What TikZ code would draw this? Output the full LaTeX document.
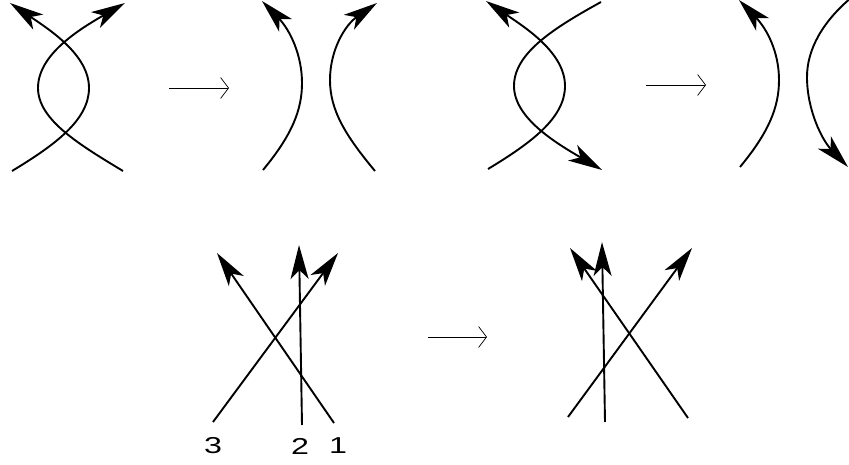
\documentclass[tikz,border=0pt]{standalone}
\usepackage{fontspec}
\setmainfont{Liberation Sans}
\newfontfamily\labfont[FakeStretch=1.4]{Liberation Sans}
\usetikzlibrary{arrows.meta}

\begin{document}
\begin{tikzpicture}[x=1pt, y=-1pt, line width=1.9pt,
    arr/.style={-{Stealth[length=34pt, width=18pt, inset=9pt]}},
    move/.style={line width=0.7pt, -{Straight Barb[length=8pt, width=21pt]}},
    lab/.style={font=\labfont\fontsize{23}{28}\selectfont, inner sep=0pt}]
    \useasboundingbox (0,0) rectangle (849,465);

    % top row, first pair
    \coordinate (a1) at (12,171);
    \coordinate (a2) at (10,3);
    \coordinate (b1) at (123,171);
    \coordinate (b2) at (125,3);
    \draw[arr] (a1) .. controls (55,145) and (89,120) .. (89,88) .. controls (89,55) and (50,30) .. (a2);
    \draw[arr] (b1) .. controls (80,145) and (38,120) .. (38,88) .. controls (38,55) and (78,30) .. (b2);

    \coordinate (m1) at (169,88);
    \coordinate (m2) at (229,88);
    \draw[move] (m1) -- (m2);

    \coordinate (c1) at (263,170);
    \coordinate (c2) at (262,1);
    \coordinate (d1) at (375,171);
    \coordinate (d2) at (377,3);
    \draw[arr] (c1) .. controls (292,135) and (302,110) .. (302,83) .. controls (302,55) and (290,30) .. (c2);
    \draw[arr] (d1) .. controls (345,135) and (330,110) .. (330,80) .. controls (330,50) and (345,25) .. (d2);

    % top row, second pair
    \coordinate (p1) at (488,169);
    \coordinate (p2) at (486,1);
    \coordinate (q1) at (601,2);
    \coordinate (q2) at (602,170);
    \draw[arr] (p1) .. controls (531,143) and (565,118) .. (565,86) .. controls (565,53) and (526,28) .. (p2);
    \draw[arr] (q1) .. controls (554,28) and (514,53) .. (514,86) .. controls (514,118) and (556,143) .. (q2);

    \coordinate (m3) at (646,85);
    \coordinate (m4) at (706,85);
    \draw[move] (m3) -- (m4);

    \coordinate (r1) at (740,167);
    \coordinate (r2) at (739,0);
    \coordinate (s1) at (852,-3);
    \coordinate (s2) at (848,167);
    \draw[arr] (r1) .. controls (769,132) and (779,107) .. (779,80) .. controls (779,52) and (767,29) .. (r2);
    \draw[arr] (s1) .. controls (822,22) and (807,50) .. (807,77) .. controls (807,110) and (822,140) .. (s2);

    % bottom row
    \coordinate (e1) at (213,422);
    \coordinate (e2) at (338,253);
    \coordinate (f1) at (302,425);
    \coordinate (f2) at (299,245);
    \coordinate (g1) at (334,423);
    \coordinate (g2) at (217,253);
    \draw[arr] (e1) -- (e2);
    \draw[arr] (f1) -- (f2);
    \draw[arr] (g1) -- (g2);

    \node[lab] (n3) at (213,446) {3};
    \node[lab] (n2) at (300,446) {2};
    \node[lab] (n1) at (338,446) {1};

    \coordinate (m5) at (428,337);
    \coordinate (m6) at (487,337);
    \draw[move] (m5) -- (m6);

    \coordinate (h1) at (568,417);
    \coordinate (h2) at (692,248);
    \coordinate (k1) at (688,418);
    \coordinate (k2) at (570,248);
    \coordinate (l1) at (605,422);
    \coordinate (l2) at (602,242);
    \draw[arr] (h1) -- (h2);
    \draw[arr] (k1) -- (k2);
    \draw[arr] (l1) -- (l2);
\end{tikzpicture}
\end{document}
